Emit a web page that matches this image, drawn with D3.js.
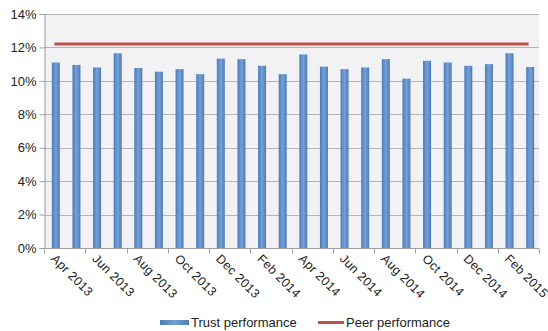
<!DOCTYPE html>
<html>
<head>
<meta charset="utf-8">
<script src="https://cdn.jsdelivr.net/npm/d3@7"></script>
<style>
  html, body { margin: 0; padding: 0; background: #ffffff; }
  svg { display: block; font-family: "Liberation Sans", Arial, sans-serif; }
</style>
</head>
<body>
<svg id="chart" width="548" height="331"></svg>
<script>
// Monthly series, Apr 2013 – Mar 2015
const months = [
  "Apr 2013", "May 2013", "Jun 2013", "Jul 2013", "Aug 2013", "Sep 2013",
  "Oct 2013", "Nov 2013", "Dec 2013", "Jan 2014", "Feb 2014", "Mar 2014",
  "Apr 2014", "May 2014", "Jun 2014", "Jul 2014", "Aug 2014", "Sep 2014",
  "Oct 2014", "Nov 2014", "Dec 2014", "Jan 2015", "Feb 2015", "Mar 2015"
];
const trustPerformance = [
  11.1, 10.95, 10.8, 11.65, 10.77, 10.55, 10.7, 10.4, 11.33, 11.3, 10.9, 10.4,
  11.58, 10.85, 10.7, 10.8, 11.3, 10.13, 11.2, 11.1, 10.9, 11.0, 11.65, 10.83
];
const peerPerformance = months.map(() => 12.2);
const yTicks = [0, 2, 4, 6, 8, 10, 12, 14];
const seriesNames = ["Trust performance", "Peer performance"];

const svg = d3.select("#chart");
const margin = { left: 44, right: 9, top: 14, bottom: 83 };
const W = 548, H = 331;
const plotW = W - margin.left - margin.right;
const plotH = H - margin.top - margin.bottom;

const x = d3.scaleBand().domain(months).range([margin.left, margin.left + plotW]);
const y = d3.scaleLinear().domain([0, 14]).range([margin.top + plotH, margin.top]);

const defs = svg.append("defs");
const grad = defs.append("linearGradient").attr("id", "barFill")
  .attr("x1", "0").attr("x2", "1").attr("y1", "0").attr("y2", "0");
grad.append("stop").attr("offset", "0%").attr("stop-color", "#4a7cbc");
grad.append("stop").attr("offset", "50%").attr("stop-color", "#77a0d4");
grad.append("stop").attr("offset", "100%").attr("stop-color", "#4a7cbc");

// plot background
svg.append("rect")
  .attr("x", margin.left).attr("y", margin.top)
  .attr("width", plotW).attr("height", plotH)
  .attr("fill", "#f2f2f4");

// gridlines
svg.append("g")
  .selectAll("line")
  .data(yTicks)
  .join("line")
  .attr("x1", margin.left).attr("x2", margin.left + plotW)
  .attr("y1", d => Math.round(y(d)) + 0.5).attr("y2", d => Math.round(y(d)) + 0.5)
  .attr("stroke", "#b4b4b4").attr("stroke-width", 1);

// y axis
const yAxis = svg.append("g")
  .attr("transform", `translate(${margin.left + 0.5},0)`)
  .call(d3.axisLeft(y).tickValues(yTicks).tickFormat(d => d + "%").tickSize(5).tickPadding(3));
yAxis.select(".domain").attr("stroke", "#a0a0a0");
yAxis.selectAll(".tick line").attr("stroke", "#a0a0a0");
yAxis.selectAll(".tick text").attr("font-size", 13).attr("fill", "#222")
  .attr("font-family", "Liberation Sans, Arial, sans-serif");

// bars
const barW = 8;
svg.append("g")
  .selectAll("rect")
  .data(trustPerformance)
  .join("rect")
  .attr("x", (d, i) => x(months[i]) + x.bandwidth() / 2 - barW / 2 + 1.5)
  .attr("y", d => y(d))
  .attr("width", barW)
  .attr("height", d => y(0) - y(d))
  .attr("fill", "url(#barFill)");

// peer line
const line = d3.line()
  .x((d, i) => x(months[i]) + x.bandwidth() / 2)
  .y(d => y(d));
svg.append("path")
  .datum(peerPerformance)
  .attr("d", line)
  .attr("fill", "none")
  .attr("stroke", "#c0504d")
  .attr("stroke-width", 3);

// x axis
const labelled = months.filter((m, i) => i % 2 === 0);
const xAxisG = svg.append("g")
  .attr("transform", `translate(0,${margin.top + plotH + 0.5})`);
xAxisG.append("line")
  .attr("x1", margin.left).attr("x2", margin.left + plotW)
  .attr("stroke", "#a0a0a0");
xAxisG.selectAll("line.tk")
  .data(d3.range(0, months.length + 1, 2))
  .join("line")
  .attr("class", "tk")
  .attr("x1", i => Math.round(margin.left + i * x.step()) + 0.5)
  .attr("x2", i => Math.round(margin.left + i * x.step()) + 0.5)
  .attr("y1", 0).attr("y2", 5)
  .attr("stroke", "#a0a0a0");
xAxisG.selectAll("text")
  .data(labelled)
  .join("text")
  .attr("transform", d => `translate(${x(d) + x.bandwidth() / 2 - 4},${11}) rotate(45)`)
  .attr("font-size", 12.5)
  .attr("letter-spacing", 0.3)
  .attr("fill", "#222")
  .attr("text-anchor", "start")
  .text(d => d);

// legend
const lg = svg.append("g").attr("transform", "translate(0,322)");
lg.append("rect").attr("x", 160).attr("y", -2).attr("width", 29).attr("height", 5).attr("fill", "url(#barFill)");
lg.append("text").attr("x", 191).attr("y", 5).attr("font-size", 13).attr("fill", "#222").text(seriesNames[0]);
lg.append("line").attr("x1", 318).attr("x2", 344).attr("y1", 0.5).attr("y2", 0.5)
  .attr("stroke", "#c0504d").attr("stroke-width", 3);
lg.append("text").attr("x", 346).attr("y", 5).attr("font-size", 13).attr("fill", "#222").text(seriesNames[1]);
</script>
</body>
</html>
